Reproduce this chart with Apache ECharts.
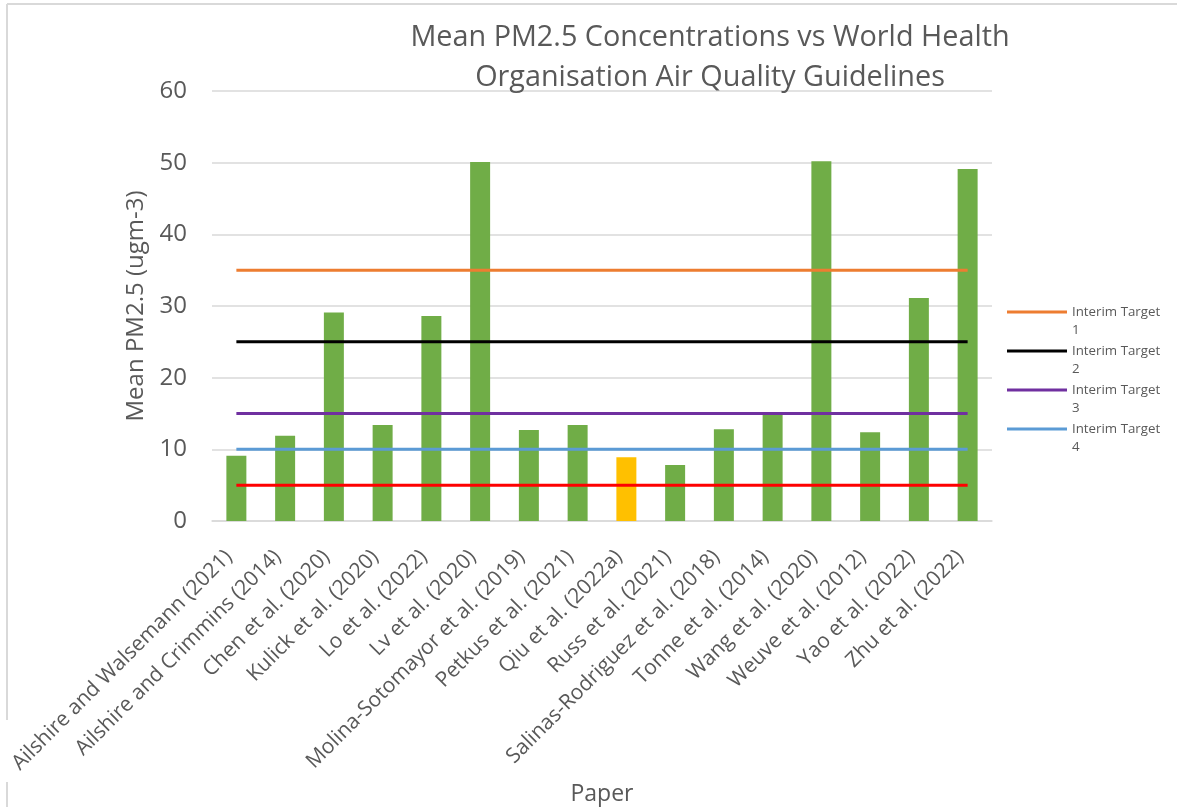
<!DOCTYPE html>
<html>
<head>
<meta charset="utf-8">
<script src="https://cdn.jsdelivr.net/npm/echarts@6/dist/echarts.min.js"></script>
<style>
  html, body { margin: 0; padding: 0; background: #fff; }
  #chart { width: 1177px; height: 807px; }
</style>
</head>
<body>
<div id="chart"></div>
<script>
// papers on the x axis
const papers = [
  'Ailshire and Walsemann (2021)', 'Ailshire and Crimmins (2014)', 'Chen et al. (2020)',
  'Kulick et al. (2020)', 'Lo et al. (2022)', 'Lv et al. (2020)',
  'Molina-Sotomayor et al. (2019)', 'Petkus et al. (2021)', 'Qiu et al. (2022a)',
  'Russ et al. (2021)', 'Salinas-Rodriguez et al. (2018)', 'Tonne et al. (2014)',
  'Wang et al. (2020)', 'Weuve et al. (2012)', 'Yao et al. (2022)', 'Zhu et al. (2022)'
];
// mean PM2.5 per paper
const meanPM25 = [9.1, 11.9, 29.1, 13.4, 28.6, 50.1, 12.7, 13.4, 8.9, 7.8, 12.8, 14.8, 50.2, 12.4, 31.1, 49.1];
// the one bar drawn in yellow
const highlightPaper = 'Qiu et al. (2022a)';

// WHO interim targets + guideline (red line has no legend entry)
const targetNames = ['Interim Target 1', 'Interim Target 2', 'Interim Target 3', 'Interim Target 4', 'AQG'];
const targetValues = [35, 25, 15, 10, 5];
const targetColors = ['#ED7D31', '#000000', '#7030A0', '#5B9BD5', '#FF0000'];

const yTicks = { min: 0, max: 60, interval: 10 };

const font = '"Open Sans", Lato, sans-serif';
const textGrey = '#595959';

const chart = echarts.init(document.getElementById('chart'));

const lineSeries = targetNames.map((name, i) => ({
  name: name,
  type: 'line',
  data: papers.map(() => targetValues[i]),
  showSymbol: false,
  symbol: 'none',
  lineStyle: { color: targetColors[i], width: 3 },
  itemStyle: { color: targetColors[i] },
  z: 5,
  silent: true
}));

const option = {
  animation: false,
  title: {
    text: 'Mean PM2.5 Concentrations vs World Health\nOrganisation Air Quality Guidelines',
    left: 705,
    top: 13,
    textAlign: 'center',
    textStyle: {
      fontFamily: font,
      fontSize: 28.8,
      fontWeight: 'normal',
      color: textGrey,
      lineHeight: 40
    }
  },
  legend: {
    data: targetNames.slice(0, 4),
    orient: 'vertical',
    left: 1007,
    top: 285,
    padding: 0,
    itemGap: -15,
    itemWidth: 60,
    itemHeight: 3,
    icon: 'rect',
    // blank first line keeps the icon level with "Interim Target"
    formatter: name => '\n' + name.replace(/ (\d)$/, '\n$1'),
    textStyle: {
      fontFamily: font,
      fontSize: 13.3,
      color: textGrey,
      lineHeight: 18
    }
  },
  grid: {
    left: 212,
    right: 185,
    top: 91,
    bottom: 286,
    outerBoundsMode: 'none'
  },
  xAxis: {
    type: 'category',
    data: papers,
    name: 'Paper',
    nameLocation: 'middle',
    nameGap: 262,
    nameMoveOverlap: false,
    nameTextStyle: { fontFamily: font, fontSize: 23, color: textGrey },
    axisLine: { lineStyle: { color: '#D9D9D9', width: 1.5 } },
    axisTick: { show: false },
    axisLabel: {
      interval: 0,
      rotate: 45,
      margin: 40,
      verticalAlign: 'bottom',
      fontFamily: font,
      fontSize: 21,
      color: textGrey
    }
  },
  yAxis: {
    type: 'value',
    min: yTicks.min,
    max: yTicks.max,
    interval: yTicks.interval,
    name: 'Mean PM2.5 (ugm-3)',
    nameLocation: 'middle',
    nameGap: 64,
    nameTextStyle: { fontFamily: font, fontSize: 24, color: textGrey },
    axisLine: { show: false },
    axisTick: { show: false },
    axisLabel: { margin: 25, fontFamily: font, fontSize: 24, color: textGrey },
    splitLine: { lineStyle: { color: '#D9D9D9', width: 1.5 } }
  },
  series: [
    {
      name: 'Mean PM2.5',
      type: 'bar',
      data: meanPM25,
      barWidth: '41%',
      itemStyle: {
        color: p => (papers[p.dataIndex] === highlightPaper ? '#FFC000' : '#70AD47')
      },
      z: 2,
      silent: true
    },
    ...lineSeries
  ],
  // chart-area border (top and left edges visible in the source)
  graphic: [
    { type: 'line', shape: { x1: 7, y1: 4, x2: 1177, y2: 4 }, style: { stroke: '#D9D9D9', lineWidth: 2 } },
    { type: 'line', shape: { x1: 7, y1: 4, x2: 7, y2: 720 }, style: { stroke: '#D9D9D9', lineWidth: 2 } },
    { type: 'line', shape: { x1: 7, y1: 782, x2: 7, y2: 807 }, style: { stroke: '#D9D9D9', lineWidth: 2 } }
  ]
};

chart.setOption(option);
</script>
</body>
</html>
